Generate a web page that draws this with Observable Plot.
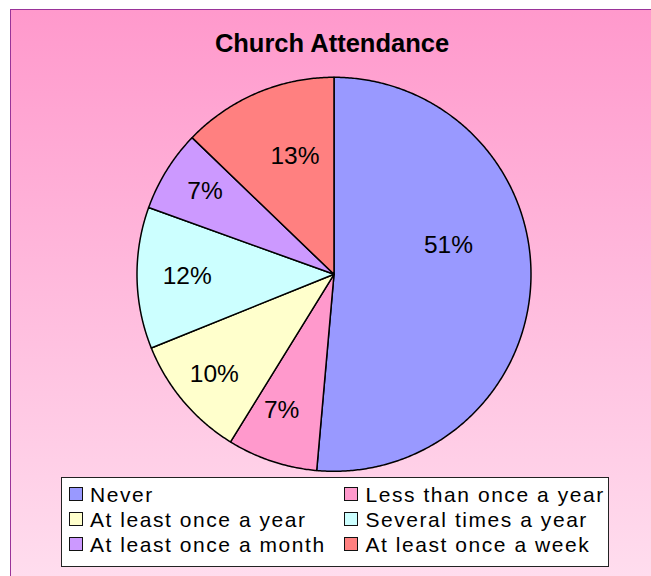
<!DOCTYPE html>
<html>
<head>
<meta charset="utf-8">
<script src="https://cdn.jsdelivr.net/npm/d3@7"></script>
<script src="https://cdn.jsdelivr.net/npm/@observablehq/plot@0.6"></script>
<style>
  html, body { margin: 0; padding: 0; background: #ffffff; }
  body { width: 651px; height: 576px; overflow: hidden; position: relative; font-family: "Liberation Sans", Arial, sans-serif; }
  #frame {
    position: absolute; left: 10px; top: 9px; width: 700px; height: 700px;
    box-sizing: border-box; border: 1.5px solid #993399;
    background: linear-gradient(to bottom, #FF99CC 0px, #FFDDEE 567px, #FFDDEE 700px);
  }
  #title {
    position: absolute; left: 0; top: 28px; width: 664px; text-align: center;
    font-weight: bold; font-size: 25.5px; line-height: 30px; color: #000;
  }
  #chart { position: absolute; left: 0; top: 0; }
  #legend {
    position: absolute; left: 61px; top: 477px; width: 548px; height: 90px;
    box-sizing: border-box; border: 1px solid #222; background: #fff; overflow: hidden;
  }
  .sw { position: absolute; width: 12px; height: 12px; border: 1.5px solid #111; }
  .lt { position: absolute; font-size: 21px; line-height: 25px; letter-spacing: 1.55px; white-space: nowrap; color: #000; }
</style>
</head>
<body>
<div id="frame"></div>
<div id="chart"></div>
<div id="title"></div>
<div id="legend"></div>
<script>
const categories = ["Never", "Less than once a year", "At least once a year", "Several times a year", "At least once a month", "At least once a week"];
const shares = [51.4, 7.4, 10.1, 11.6, 6.7, 12.8];
const colors = ["#9999FF", "#FF99CC", "#FFFFCC", "#CCFFFF", "#CC99FF", "#FF8080"];
const titleText = "Church Attendance";

// label placement tuning (radial fraction and clockwise turn in degrees, per slice)
const labelRadius = [0.6, 0.74, 0.79, 0.745, 0.78, 0.63];
const labelTurn = [-17, 2.7, 0.4, 0.2, 1.1, 4.7];

document.getElementById("title").textContent = titleText;

const total = d3.sum(shares);
const arcs = d3.pie().sort(null).value(d => d)(shares);

const slicePts = arcs.flatMap((a, i) => {
  const k = categories[i];
  const n = Math.max(2, Math.ceil((a.endAngle - a.startAngle) / (Math.PI / 360)));
  const pts = [{x: 0, y: 0, k}];
  for (let j = 0; j <= n; j++) {
    const t = a.startAngle + (a.endAngle - a.startAngle) * j / n;
    pts.push({x: Math.sin(t), y: Math.cos(t), k});
  }
  pts.push({x: 0, y: 0, k});
  return pts;
});

const labels = arcs.map((a, i) => {
  const mid = (a.startAngle + a.endAngle) / 2 + labelTurn[i] * Math.PI / 180;
  return {x: labelRadius[i] * Math.sin(mid), y: labelRadius[i] * Math.cos(mid), t: Math.round(100 * shares[i] / total) + "%"};
});

const plot = Plot.plot({
  width: 651,
  height: 576,
  marginLeft: 136.5,
  marginRight: 120.5,
  marginTop: 76.8,
  marginBottom: 105.2,
  x: {domain: [-1, 1], axis: null},
  y: {domain: [-1, 1], axis: null},
  color: {type: "ordinal", domain: categories, range: colors},
  style: {background: "transparent", overflow: "visible", fontFamily: "Liberation Sans, Arial, sans-serif"},
  marks: [
    Plot.line(slicePts, {x: "x", y: "y", z: "k", fill: "k", stroke: "black", strokeWidth: 1.5, strokeLinejoin: "round"}),
    Plot.text(labels, {x: "x", y: "y", text: "t", fontSize: 24.5, fill: "black", fontFamily: "Liberation Sans, Arial, sans-serif"})
  ]
});
document.getElementById("chart").appendChild(plot);

// legend (2 columns, row-major)
const legend = document.getElementById("legend");
const colSw = [6.5, 281.5];
const colTx = [28, 303.5];
categories.forEach((c, i) => {
  const row = Math.floor(i / 2), col = i % 2;
  const sw = document.createElement("div");
  sw.className = "sw";
  sw.style.left = colSw[col] + "px";
  sw.style.top = (8.5 + 25 * row) + "px";
  sw.style.background = colors[i];
  legend.appendChild(sw);
  const tx = document.createElement("div");
  tx.className = "lt";
  tx.style.left = colTx[col] + "px";
  tx.style.top = (3.7 + 25 * row) + "px";
  tx.textContent = c;
  legend.appendChild(tx);
});
</script>
</body>
</html>
